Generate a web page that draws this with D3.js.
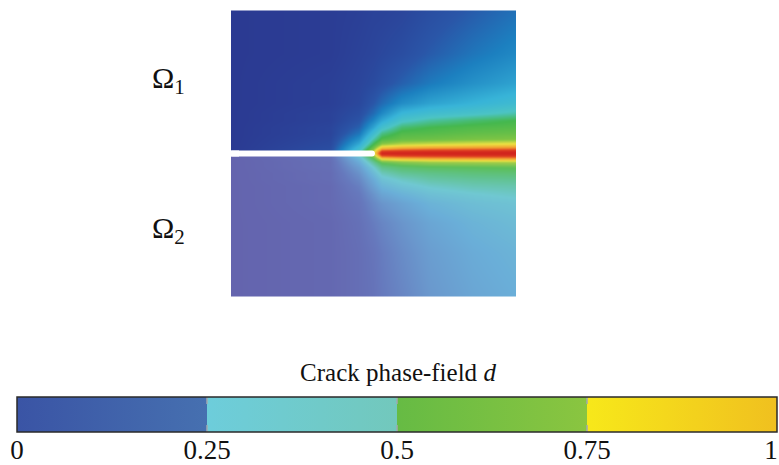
<!DOCTYPE html>
<html>
<head>
<meta charset="utf-8">
<script src="https://cdn.jsdelivr.net/npm/d3@7"></script>
<style>
  body { margin: 0; background: #fff; }
  svg { display: block; }
</style>
</head>
<body>
<script>
const width = 779;
const height = 465;

// field samples: columns across the plate (0..1), rows = offset from the crack line (px of the original figure)
const colX = [0, 0.35, 0.45, 0.5, 0.53, 0.6, 0.7, 0.85, 1.0];
const rowsUpper = [-143, -100, -70, -50, -40, -33, -26, -20, -14, -9, -5, -2, 0];
const rowsLower = [0, 2, 5, 9, 14, 20, 26, 33, 40, 50, 70, 100, 143];

// d values, one array per column (upper half: top -> crack)
const dUpper = [
  [0, 0, 0, 0, 0, 0, 0, 0, 0, 0, 0, 0, 0],
  [0.01, 0.01, 0.02, 0.02, 0.03, 0.03, 0.04, 0.04, 0.05, 0.06, 0.07, 0.08, 0.08],
  [0.02, 0.03, 0.04, 0.05, 0.07, 0.09, 0.12, 0.16, 0.22, 0.28, 0.34, 0.38, 0.42],
  [0.03, 0.04, 0.06, 0.1, 0.14, 0.19, 0.26, 0.34, 0.42, 0.5, 0.58, 0.66, 0.7],
  [0.03, 0.05, 0.08, 0.14, 0.2, 0.27, 0.36, 0.45, 0.52, 0.62, 0.78, 0.94, 1.0],
  [0.04, 0.07, 0.12, 0.21, 0.31, 0.38, 0.47, 0.52, 0.56, 0.66, 0.82, 0.96, 1.0],
  [0.07, 0.11, 0.17, 0.26, 0.35, 0.43, 0.5, 0.53, 0.57, 0.68, 0.84, 0.97, 1.0],
  [0.11, 0.16, 0.22, 0.3, 0.38, 0.47, 0.52, 0.55, 0.59, 0.7, 0.85, 0.97, 1.0],
  [0.15, 0.2, 0.26, 0.34, 0.42, 0.5, 0.53, 0.56, 0.6, 0.72, 0.86, 0.98, 1.0]
];

// lower half: crack -> bottom
const dLower = [
  [0, 0, 0, 0, 0, 0, 0, 0, 0, 0, 0, 0, 0],
  [0.08, 0.07, 0.06, 0.05, 0.05, 0.04, 0.04, 0.03, 0.03, 0.03, 0.02, 0.02, 0.02],
  [0.42, 0.38, 0.32, 0.27, 0.22, 0.18, 0.15, 0.12, 0.1, 0.08, 0.06, 0.05, 0.05],
  [0.7, 0.64, 0.55, 0.46, 0.38, 0.32, 0.27, 0.23, 0.19, 0.15, 0.11, 0.08, 0.07],
  [1.0, 0.93, 0.76, 0.57, 0.48, 0.41, 0.35, 0.3, 0.25, 0.19, 0.14, 0.11, 0.1],
  [1.0, 0.95, 0.8, 0.61, 0.52, 0.46, 0.4, 0.35, 0.3, 0.24, 0.19, 0.16, 0.14],
  [1.0, 0.96, 0.82, 0.64, 0.54, 0.48, 0.44, 0.39, 0.35, 0.3, 0.25, 0.22, 0.2],
  [1.0, 0.97, 0.83, 0.65, 0.55, 0.5, 0.46, 0.42, 0.38, 0.34, 0.3, 0.27, 0.25],
  [1.0, 0.97, 0.84, 0.66, 0.56, 0.51, 0.47, 0.43, 0.4, 0.36, 0.33, 0.3, 0.28]
];

const crackTip = 0.505;

// colour bar
const barTicks = [0, 0.25, 0.5, 0.75, 1];
const barTickLabels = ["0", "0.25", "0.5", "0.75", "1"];
const barSegments = [
  { from: 0, to: 0.25, c0: "#3a54a5", c1: "#4670b0" },
  { from: 0.25, to: 0.5, c0: "#6dcddb", c1: "#72c8bc" },
  { from: 0.5, to: 0.75, c0: "#66bb44", c1: "#8ac540" },
  { from: 0.75, to: 1, c0: "#f7e81a", c1: "#f0c01f" }
];

const upperColor = d3.scaleLinear()
  .domain([0, 0.1, 0.18, 0.3, 0.4, 0.5, 0.6, 0.7, 0.82, 0.92, 1])
  .range(["#2b3a92", "#2a56a8", "#1c80c0", "#38b4d8", "#4cc4c4", "#45b84e", "#80c544", "#ebe142", "#f2a232", "#e04422", "#d0221d"])
  .clamp(true);

const lowerColor = d3.scaleLinear()
  .domain([0, 0.1, 0.2, 0.28, 0.38, 0.48, 0.55, 0.65, 0.72, 0.82, 0.92, 1])
  .range(["#6464ae", "#6679bd", "#6a98cd", "#6aaed8", "#70c8d2", "#60c28a", "#5cbf5a", "#a0cc48", "#e8e044", "#f2a232", "#e04422", "#d0221d"])
  .clamp(true);

const svg = d3.select("body")
  .append("svg")
  .attr("width", width)
  .attr("height", height);

// plate
const x = d3.scaleLinear().domain([0, 1]).range([231, 516]);
const y = d3.scaleLinear().domain([-143, 143]).range([10.5, 296.5]);

function sample(grid, rows, xf, dy) {
  const i = Math.max(0, Math.min(colX.length - 2, d3.bisectRight(colX, xf) - 1));
  const j = Math.max(0, Math.min(rows.length - 2, d3.bisectRight(rows, dy) - 1));
  const tx = Math.max(0, Math.min(1, (xf - colX[i]) / (colX[i + 1] - colX[i])));
  const ty = Math.max(0, Math.min(1, (dy - rows[j]) / (rows[j + 1] - rows[j])));
  return grid[i][j] * (1 - tx) * (1 - ty) + grid[i + 1][j] * tx * (1 - ty)
    + grid[i][j + 1] * (1 - tx) * ty + grid[i + 1][j + 1] * tx * ty;
}

const pw = Math.round(x(1) - x(0));
const ph = Math.round(y(143) - y(-143));
const canvas = document.createElement("canvas");
canvas.width = pw;
canvas.height = ph;
const ctx = canvas.getContext("2d");
const img = ctx.createImageData(pw, ph);
for (let py = 0; py < ph; py++) {
  const dy = y.invert(y(-143) + py + 0.5);
  for (let px = 0; px < pw; px++) {
    const xf = x.invert(x(0) + px + 0.5);
    const upper = dy < 0;
    const v = upper ? sample(dUpper, rowsUpper, xf, dy) : sample(dLower, rowsLower, xf, dy);
    const c = d3.rgb(upper ? upperColor(v) : lowerColor(v));
    const k = (py * pw + px) * 4;
    img.data[k] = c.r;
    img.data[k + 1] = c.g;
    img.data[k + 2] = c.b;
    img.data[k + 3] = 255;
  }
}
ctx.putImageData(img, 0, 0);

svg.append("image")
  .attr("x", x(0))
  .attr("y", y(-143))
  .attr("width", pw)
  .attr("height", ph)
  .attr("href", canvas.toDataURL());

// crack (white slit with rounded tip)
svg.append("rect")
  .attr("x", x(0) - 2)
  .attr("y", y(0) - 3)
  .attr("width", x(crackTip) - x(0) + 2)
  .attr("height", 6)
  .attr("rx", 3)
  .attr("fill", "#fff");
svg.append("rect")
  .attr("x", x(0) - 2)
  .attr("y", y(0) - 3)
  .attr("width", 10)
  .attr("height", 6)
  .attr("fill", "#fff");

// region labels
const omega = [
  { label: "1", yPos: 88 },
  { label: "2", yPos: 238 }
];
omega.forEach(o => {
  const t = svg.append("text")
    .attr("x", 152)
    .attr("y", o.yPos)
    .attr("font-family", "Liberation Serif, serif")
    .attr("font-size", 30)
    .attr("fill", "#111");
  t.append("tspan").text("Ω");
  t.append("tspan")
    .attr("font-size", 21)
    .attr("dy", 6)
    .text(o.label);
});

// colour bar
const cb = d3.scaleLinear().domain([0, 1]).range([17, 777]);
const barTop = 397;
const barH = 35;

const defs = svg.append("defs");
barSegments.forEach((s, i) => {
  const g = defs.append("linearGradient").attr("id", "seg" + i);
  g.append("stop").attr("offset", "0%").attr("stop-color", s.c0);
  g.append("stop").attr("offset", "100%").attr("stop-color", s.c1);
});

svg.selectAll("rect.seg")
  .data(barSegments)
  .enter()
  .append("rect")
    .attr("class", "seg")
    .attr("x", d => cb(d.from))
    .attr("y", barTop)
    .attr("width", d => cb(d.to) - cb(d.from))
    .attr("height", barH)
    .attr("fill", (d, i) => `url(#seg${i})`);

// faint ticks at the inner boundaries
const inner = barTicks.slice(1, -1);
svg.selectAll("line.tt")
  .data(inner)
  .enter()
  .append("line")
    .attr("x1", d => cb(d)).attr("x2", d => cb(d))
    .attr("y1", barTop).attr("y2", barTop + 7)
    .attr("stroke", "#a0a8b0").attr("stroke-width", 1.5);
svg.selectAll("line.tb")
  .data(inner)
  .enter()
  .append("line")
    .attr("x1", d => cb(d)).attr("x2", d => cb(d))
    .attr("y1", barTop + barH - 7).attr("y2", barTop + barH)
    .attr("stroke", "#a0a8b0").attr("stroke-width", 1.5);

svg.append("rect")
  .attr("x", cb(0))
  .attr("y", barTop)
  .attr("width", cb(1) - cb(0))
  .attr("height", barH)
  .attr("fill", "none")
  .attr("stroke", "#2a2a2a")
  .attr("stroke-width", 1.5);

svg.selectAll("text.tick")
  .data(barTicks)
  .enter()
  .append("text")
    .attr("class", "tick")
    .attr("x", d => Math.min(cb(d), 771))
    .attr("y", 459)
    .attr("text-anchor", "middle")
    .attr("font-family", "Liberation Serif, serif")
    .attr("font-size", 27)
    .attr("fill", "#111")
    .text((d, i) => barTickLabels[i]);

const title = svg.append("text")
  .attr("x", 398)
  .attr("y", 381)
  .attr("text-anchor", "middle")
  .attr("font-family", "Liberation Serif, serif")
  .attr("font-size", 25)
  .attr("fill", "#111");
title.append("tspan").text("Crack phase-field ");
title.append("tspan").attr("font-style", "italic").text("d");
</script>
</body>
</html>
